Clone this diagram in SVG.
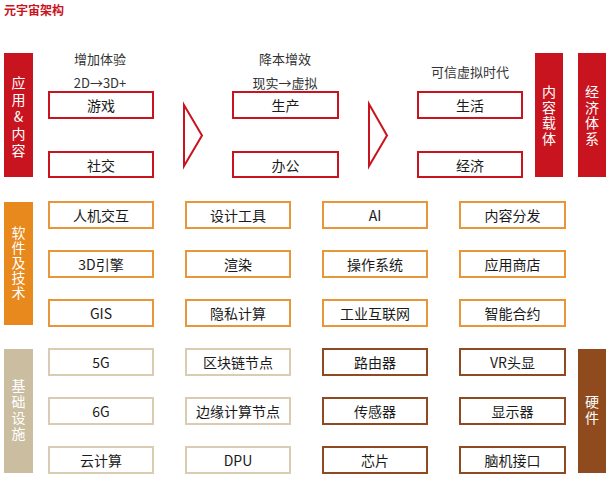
<svg xmlns="http://www.w3.org/2000/svg" width="612" height="478" viewBox="0 0 612 478">
<style>
text{font-family:"Noto Sans CJK SC","Liberation Sans",sans-serif;}
.title{font-size:12px;font-weight:bold;fill:#c8141e;}
.hdr{font-size:13px;fill:#333;text-anchor:middle;}
.lbl{font-size:14px;fill:#1a1a1a;text-anchor:middle;dominant-baseline:central;}
.vt{font-size:14px;fill:#fff;text-anchor:middle;writing-mode:vertical-rl;text-orientation:upright;}
.rbox{fill:#fff;stroke:#c8141e;stroke-width:2;}
.obox{fill:#fff;stroke:#e8963a;stroke-width:2;}
.bbox{fill:#fff;stroke:#d9ccb2;stroke-width:2;}
.hbox{fill:#fff;stroke:#8f4a22;stroke-width:2;}
.rbar{fill:#c8141e;}
.obar{fill:#e8891e;}
.bbar{fill:#cbbd9f;}
.hbar{fill:#8f4a1e;}
.arrow{fill:none;stroke:#c8141e;stroke-width:2;}
</style>
<rect width="612" height="478" fill="#fff"/>
<text class="title" x="4" y="15">元宇宙架构</text>

<!-- Section headers -->
<text class="hdr" x="100" y="64">增加体验</text>
<text class="hdr" x="100" y="88">2D→3D+</text>
<text class="hdr" x="285" y="64">降本增效</text>
<text class="hdr" x="285" y="88">现实→虚拟</text>
<text class="hdr" x="470" y="77">可信虚拟时代</text>

<!-- Side bars -->
<g id="bar-app">
<rect class="rbar" x="4" y="53" width="29" height="124"/>
<text class="vt" x="18.5" y="118" style="letter-spacing:3px">应用&amp;内容</text>
</g>
<g id="bar-content">
<rect class="rbar" x="535" y="53" width="28" height="124"/>
<text class="vt" x="549" y="116" style="letter-spacing:1.5px">内容载体</text>
</g>
<g id="bar-econ">
<rect class="rbar" x="578" y="53" width="28" height="124"/>
<text class="vt" x="592" y="116" style="letter-spacing:1.5px">经济体系</text>
</g>
<g id="bar-soft">
<rect class="obar" x="4" y="202" width="29" height="123"/>
<text class="vt" x="18.5" y="263" style="letter-spacing:1px">软件及技术</text>
</g>
<g id="bar-infra">
<rect class="bbar" x="4" y="349" width="29" height="124"/>
<text class="vt" x="18.5" y="411" style="letter-spacing:2px">基础设施</text>
</g>
<g id="bar-hw">
<rect class="hbar" x="578" y="349" width="28" height="124"/>
<text class="vt" x="592" y="411" style="letter-spacing:2px">硬件</text>
</g>

<!-- Connectors (arrows) -->
<g id="connectors">
<polygon class="arrow" points="184,105 202,135.5 184,166"/>
<polygon class="arrow" points="369,104 387,135.5 369,166"/>
</g>

<!-- Application row -->
<g id="n-game"><rect class="rbox" x="49" y="92" width="104" height="26"/><text class="lbl" x="101" y="105">游戏</text></g>
<g id="n-social"><rect class="rbox" x="49" y="152" width="104" height="25"/><text class="lbl" x="101" y="164.5">社交</text></g>
<g id="n-prod"><rect class="rbox" x="233" y="92" width="105" height="26"/><text class="lbl" x="285.5" y="105">生产</text></g>
<g id="n-office"><rect class="rbox" x="233" y="152" width="105" height="25"/><text class="lbl" x="285.5" y="164.5">办公</text></g>
<g id="n-life"><rect class="rbox" x="418" y="92" width="104" height="26"/><text class="lbl" x="470" y="105">生活</text></g>
<g id="n-economy"><rect class="rbox" x="418" y="152" width="104" height="25"/><text class="lbl" x="470" y="164.5">经济</text></g>

<!-- Software row -->
<g id="n-hci"><rect class="obox" x="49" y="202" width="104" height="26"/><text class="lbl" x="101" y="215">人机交互</text></g>
<g id="n-3d"><rect class="obox" x="49" y="251" width="104" height="26"/><text class="lbl" x="101" y="264">3D引擎</text></g>
<g id="n-gis"><rect class="obox" x="49" y="300" width="104" height="26"/><text class="lbl" x="101" y="313">GIS</text></g>
<g id="n-design"><rect class="obox" x="186" y="202" width="104" height="26"/><text class="lbl" x="238" y="215">设计工具</text></g>
<g id="n-render"><rect class="obox" x="186" y="251" width="104" height="26"/><text class="lbl" x="238" y="264">渲染</text></g>
<g id="n-privacy"><rect class="obox" x="186" y="300" width="104" height="26"/><text class="lbl" x="238" y="313">隐私计算</text></g>
<g id="n-ai"><rect class="obox" x="323" y="202" width="104" height="26"/><text class="lbl" x="375" y="215">AI</text></g>
<g id="n-os"><rect class="obox" x="323" y="251" width="104" height="26"/><text class="lbl" x="375" y="264">操作系统</text></g>
<g id="n-iiot"><rect class="obox" x="323" y="300" width="104" height="26"/><text class="lbl" x="375" y="313">工业互联网</text></g>
<g id="n-dist"><rect class="obox" x="460" y="202" width="105" height="26"/><text class="lbl" x="512.5" y="215">内容分发</text></g>
<g id="n-store"><rect class="obox" x="460" y="251" width="105" height="26"/><text class="lbl" x="512.5" y="264">应用商店</text></g>
<g id="n-contract"><rect class="obox" x="460" y="300" width="105" height="26"/><text class="lbl" x="512.5" y="313">智能合约</text></g>

<!-- Infrastructure row -->
<g id="n-5g"><rect class="bbox" x="49" y="349" width="104" height="26"/><text class="lbl" x="101" y="362">5G</text></g>
<g id="n-6g"><rect class="bbox" x="49" y="398" width="104" height="26"/><text class="lbl" x="101" y="411">6G</text></g>
<g id="n-cloud"><rect class="bbox" x="49" y="447" width="104" height="26"/><text class="lbl" x="101" y="460">云计算</text></g>
<g id="n-chain"><rect class="bbox" x="186" y="349" width="104" height="26"/><text class="lbl" x="238" y="362">区块链节点</text></g>
<g id="n-edge"><rect class="bbox" x="186" y="398" width="104" height="26"/><text class="lbl" x="238" y="411">边缘计算节点</text></g>
<g id="n-dpu"><rect class="bbox" x="186" y="447" width="104" height="26"/><text class="lbl" x="238" y="460">DPU</text></g>

<!-- Hardware row -->
<g id="n-router"><rect class="hbox" x="323" y="349" width="104" height="26"/><text class="lbl" x="375" y="362">路由器</text></g>
<g id="n-sensor"><rect class="hbox" x="323" y="398" width="104" height="26"/><text class="lbl" x="375" y="411">传感器</text></g>
<g id="n-chip"><rect class="hbox" x="323" y="447" width="104" height="26"/><text class="lbl" x="375" y="460">芯片</text></g>
<g id="n-vr"><rect class="hbox" x="460" y="349" width="105" height="26"/><text class="lbl" x="512.5" y="362">VR头显</text></g>
<g id="n-display"><rect class="hbox" x="460" y="398" width="105" height="26"/><text class="lbl" x="512.5" y="411">显示器</text></g>
<g id="n-bci"><rect class="hbox" x="460" y="447" width="105" height="26"/><text class="lbl" x="512.5" y="460">脑机接口</text></g>
</svg>
